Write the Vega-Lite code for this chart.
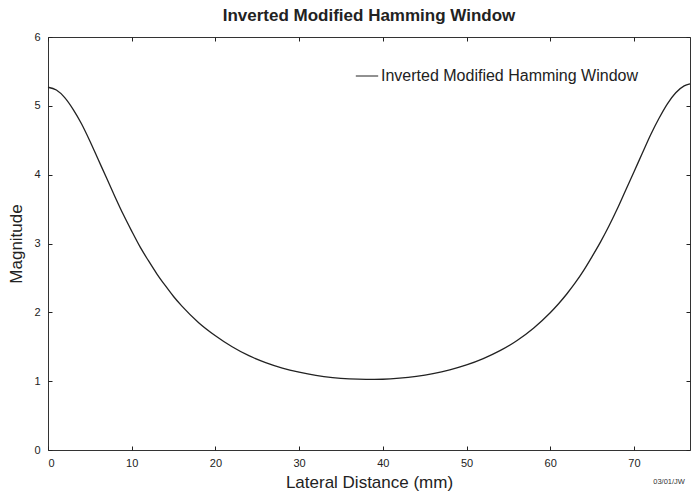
{
  "$schema": "https://vega.github.io/schema/vega-lite/v6.json",
  "width": 642,
  "height": 413,
  "autosize": {"type": "none"},
  "padding": {"left": 48, "top": 37, "right": 2, "bottom": 43},
  "background": "white",
  "title": {
    "text": "Inverted Modified Hamming Window",
    "font": "Liberation Sans",
    "fontSize": 17,
    "fontWeight": "bold",
    "color": "#222",
    "anchor": "middle",
    "offset": 6
  },
  "config": {
    "view": {"stroke": "#333", "strokeWidth": 1},
    "axis": {
      "grid": false,
      "domain": false,
      "labelFont": "Liberation Sans",
      "labelFontSize": 11,
      "labelColor": "#222",
      "titleFont": "Liberation Sans",
      "titleFontWeight": "normal",
      "titleColor": "#222",
      "titleFontSize": 17
    },
    "legend": {
      "labelFont": "Liberation Sans",
      "labelFontSize": 16,
      "labelColor": "#222",
      "labelLimit": 0
    }
  },
  "layer": [
    {
      "data": {
        "values": [
          {"distance": 0, "magnitude": 5.27},
          {"distance": 1, "magnitude": 5.23},
          {"distance": 2, "magnitude": 5.12},
          {"distance": 3, "magnitude": 4.95},
          {"distance": 4, "magnitude": 4.74},
          {"distance": 5, "magnitude": 4.49},
          {"distance": 6, "magnitude": 4.22},
          {"distance": 7, "magnitude": 3.95},
          {"distance": 8, "magnitude": 3.68},
          {"distance": 9, "magnitude": 3.42},
          {"distance": 10, "magnitude": 3.18},
          {"distance": 11, "magnitude": 2.95},
          {"distance": 12, "magnitude": 2.75},
          {"distance": 13, "magnitude": 2.56},
          {"distance": 14, "magnitude": 2.39},
          {"distance": 15, "magnitude": 2.23},
          {"distance": 16, "magnitude": 2.09},
          {"distance": 18, "magnitude": 1.85},
          {"distance": 20, "magnitude": 1.66},
          {"distance": 22, "magnitude": 1.50},
          {"distance": 24, "magnitude": 1.37},
          {"distance": 26, "magnitude": 1.27},
          {"distance": 28, "magnitude": 1.19},
          {"distance": 30, "magnitude": 1.13},
          {"distance": 32, "magnitude": 1.083},
          {"distance": 34, "magnitude": 1.051},
          {"distance": 36, "magnitude": 1.032},
          {"distance": 38, "magnitude": 1.025},
          {"distance": 40, "magnitude": 1.028},
          {"distance": 42, "magnitude": 1.043},
          {"distance": 44, "magnitude": 1.07},
          {"distance": 46, "magnitude": 1.11},
          {"distance": 48, "magnitude": 1.165},
          {"distance": 50, "magnitude": 1.236},
          {"distance": 52, "magnitude": 1.328},
          {"distance": 54, "magnitude": 1.443},
          {"distance": 56, "magnitude": 1.588},
          {"distance": 58, "magnitude": 1.77},
          {"distance": 60, "magnitude": 1.995},
          {"distance": 61, "magnitude": 2.125},
          {"distance": 62, "magnitude": 2.27},
          {"distance": 63, "magnitude": 2.43},
          {"distance": 64, "magnitude": 2.61},
          {"distance": 65, "magnitude": 2.81},
          {"distance": 66, "magnitude": 3.02},
          {"distance": 67, "magnitude": 3.25},
          {"distance": 68, "magnitude": 3.50},
          {"distance": 69, "magnitude": 3.77},
          {"distance": 70, "magnitude": 4.04},
          {"distance": 71, "magnitude": 4.31},
          {"distance": 72, "magnitude": 4.58},
          {"distance": 73, "magnitude": 4.82},
          {"distance": 74, "magnitude": 5.03},
          {"distance": 75, "magnitude": 5.19},
          {"distance": 76, "magnitude": 5.29},
          {"distance": 76.7, "magnitude": 5.32}
        ]
      },
      "mark": {"type": "line", "strokeWidth": 1.3, "interpolate": "monotone"},
      "encoding": {
        "x": {
          "field": "distance",
          "type": "quantitative",
          "scale": {"domain": [0, 76.7], "nice": false, "zero": false},
          "axis": {
            "orient": "bottom",
            "values": [0, 10, 20, 30, 40, 50, 60, 70],
            "ticks": true,
            "tickSize": 4,
            "tickColor": "#222",
            "tickWidth": 1,
            "offset": -4,
            "labelPadding": 7,
            "title": "Lateral Distance (mm)",
            "titlePadding": 6
          }
        },
        "y": {
          "field": "magnitude",
          "type": "quantitative",
          "scale": {"domain": [0, 6], "nice": false},
          "axis": {
            "orient": "left",
            "values": [0, 1, 2, 3, 4, 5, 6],
            "ticks": true,
            "tickSize": 4,
            "tickColor": "#222",
            "tickWidth": 1,
            "offset": -4,
            "labelPadding": 8,
            "title": "Magnitude",
            "titlePadding": 8
          }
        },
        "color": {
          "datum": "Inverted Modified Hamming Window",
          "scale": {"range": ["#222222"]},
          "legend": {
            "title": null,
            "orient": "none",
            "legendX": 307,
            "legendY": 27,
            "symbolType": "stroke",
            "symbolStrokeWidth": 1,
            "symbolSize": 500,
            "labelOffset": 2
          }
        }
      }
    },
    {
      "data": {"values": [{"distance": 74.2, "magnitude": -0.47, "note": "03/01/JW"}]},
      "mark": {"type": "text", "fontSize": 7.5, "font": "Liberation Sans", "color": "#333", "clip": false},
      "encoding": {
        "x": {
          "field": "distance",
          "type": "quantitative",
          "axis": {"orient": "top", "values": [0, 10, 20, 30, 40, 50, 60, 70], "labels": false, "title": null, "ticks": true, "tickSize": 4, "tickColor": "#222", "offset": -4}
        },
        "y": {
          "field": "magnitude",
          "type": "quantitative",
          "axis": {"orient": "right", "values": [0, 1, 2, 3, 4, 5, 6], "labels": false, "title": null, "ticks": true, "tickSize": 4, "tickColor": "#222", "offset": -4}
        },
        "text": {"field": "note"}
      }
    }
  ],
  "resolve": {"axis": {"x": "independent", "y": "independent"}}
}
